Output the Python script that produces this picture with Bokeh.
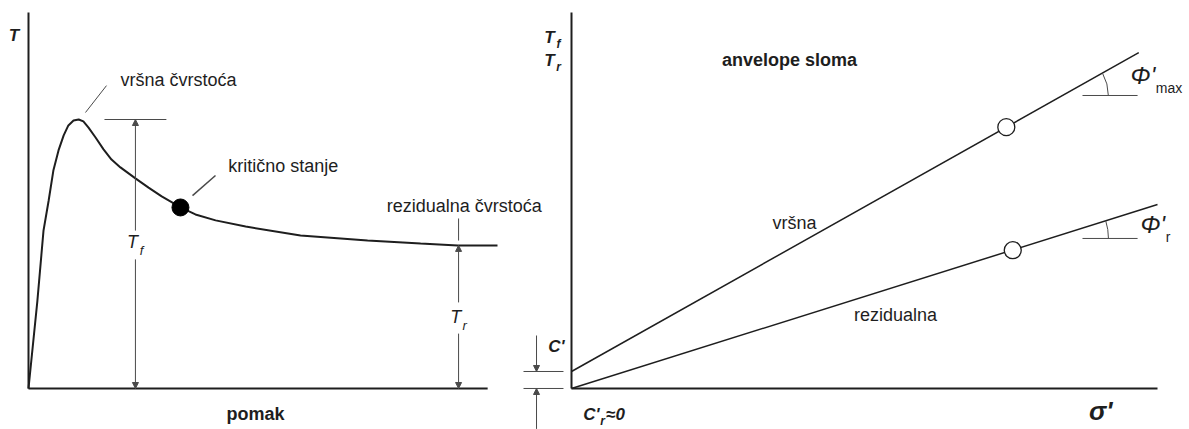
import numpy as np
from bokeh.plotting import figure
from bokeh.models import Range1d, Arrow, NormalHead
from bokeh.core.properties import value
from bokeh.embed import file_html
from bokeh.resources import INLINE

# ---------------- data ----------------
# Left panel: shear stress T (peak = 100) vs displacement "pomak"
displacement = [0, 1.9, 3.2, 4.3, 5.3, 6.4, 7.5, 8.5, 9.6, 10.7, 11.7, 12.8, 14.3,
                16.0, 17.7, 19.6, 22.8, 25.6, 28.4, 30.7, 32.4, 35.6, 39.9, 46.3,
                58.0, 72.3, 83.6, 91.5, 100.0]
shear_stress = [0, 32.7, 58.7, 69.9, 81.0, 88.5, 94.1, 97.8, 99.6, 100.0, 99.3, 97.0,
                93.3, 88.9, 85.1, 82.2, 78.1, 74.7, 71.4, 69.1, 67.3, 64.7, 62.5, 60.2,
                56.9, 55.0, 53.9, 53.2, 53.2]
critical_disp = [32.4]
critical_stress = [67.3]
tf_disp = 22.8      # where T_f is dimensioned
tr_disp = 91.7      # where T_r is dimensioned
axis_end_disp = 97.9

# Right panel: failure envelopes tau vs sigma'
sigma_peak = [0, 96.8]
tau_peak = [2.9, 57.3]
sigma_res = [0, 100.0]
tau_res = [0, 31.4]
test_sigma_peak = [74.2]
test_tau_peak = [44.6]
test_sigma_res = [75.3]
test_tau_res = [23.6]

peak = max(shear_stress)
residual = shear_stress[-1]
c_peak = tau_peak[0]

FONT = value("Liberation Sans")
INK = "#1e1e1e"
GRAY = "#4a4a4a"

p = figure(width=1189, height=429, output_backend="svg", toolbar_location=None,
           x_axis_type=None, y_axis_type=None, min_border=0,
           x_range=Range1d(-5.970, 247.55), y_range=Range1d(-15.242, 144.24))
p.extra_x_ranges = {"s": Range1d(-97.44, 105.46)}
p.extra_y_ranges = {"t": Range1d(-7.0, 66.21)}
p.outline_line_color = None
p.background_fill_color = "white"
p.border_fill_color = "white"
R = dict(x_range_name="s", y_range_name="t")


def txt(x, y, s, size, style="normal", align="center", right=False, color=INK):
    kw = R if right else {}
    p.text(x=[x], y=[y], text=[s], text_font=FONT, text_font_size=size,
           text_font_style=style, text_align=align, text_baseline="middle",
           text_color=color, **kw)


def arrow(x0, y0, x1, y1, right=False, color=GRAY):
    kw = R if right else {}
    p.add_layout(Arrow(end=NormalHead(size=6, fill_color=color, line_color=color),
                       x_start=x0, y_start=y0, x_end=x1, y_end=y1,
                       line_color=color, line_width=1, **kw))


# ---------------- left panel ----------------
p.line([0, 0], [0, 139.8], line_color=INK, line_width=2)
p.line([0, axis_end_disp], [0, 0], line_color=INK, line_width=2)
p.line(displacement, shear_stress, line_color=INK, line_width=2)
p.scatter(critical_disp, critical_stress, size=17, fill_color="black", line_color="black")

# T_f dimension
p.line([tf_disp - 6.6, tf_disp + 6.6], [peak, peak], line_color=GRAY, line_width=1)
arrow(tf_disp, 58.7, tf_disp, peak)
arrow(tf_disp, 48.0, tf_disp, 0)
txt(tf_disp - 0.6, 54.3, "T", "18px", "italic")
txt(tf_disp + 1.3, 51.3, "f", "13px", "italic")

# T_r dimension
p.line([tr_disp, tr_disp], [residual + 1.8, residual + 10], line_color=GRAY, line_width=1)
arrow(tr_disp, 32.0, tr_disp, residual)
arrow(tr_disp, 20.4, tr_disp, 0)
txt(tr_disp - 0.6, 26.4, "T", "18px", "italic")
txt(tr_disp + 1.3, 23.4, "r", "13px", "italic")

# leaders and labels
p.line([12.15, 16.63], [102.6, 112.6], line_color=GRAY, line_width=1)
p.line([34.97, 39.87], [71.7, 79.2], line_color=GRAY, line_width=1.5)
txt(19.6, 114.5, "vršna čvrstoća", "18px", align="left")
txt(42.6, 82.9, "kritično stanje", "18px", align="left")
txt(92.9, 68.0, "rezidualna čvrstoća", "18px")
txt(-3.1, 131.2, "T", "17px", "bold italic")
txt(48.4, -9.3, "pomak", "18px", "bold")

# ---------------- right panel ----------------
p.line([0, 0], [0, 64.16], line_color=INK, line_width=2, **R)
p.line([0, 100], [0, 0], line_color=INK, line_width=2, **R)
p.line(sigma_peak, tau_peak, line_color=INK, line_width=1.5, **R)
p.line(sigma_res, tau_res, line_color=INK, line_width=1.5, **R)
p.scatter(test_sigma_peak, test_tau_peak, size=17, fill_color="white", line_color=INK,
          line_width=1.3, **R)
p.scatter(test_sigma_res, test_tau_res, size=17, fill_color="white", line_color=INK,
          line_width=1.3, **R)

slope_peak = (tau_peak[1] - tau_peak[0]) / (sigma_peak[1] - sigma_peak[0])
slope_res = (tau_res[1] - tau_res[0]) / (sigma_res[1] - sigma_res[0])

# angle markers
h1 = 50.0
v1 = (h1 - c_peak) / slope_peak
p.line([87.2, 96.6], [h1, h1], line_color=GRAY, line_width=1, **R)
p.arc(x=[v1], y=[h1], radius=7.8, start_angle=0, end_angle=np.arctan(slope_peak),
      line_color=GRAY, line_width=1, **R)
h2 = 25.6
v2 = h2 / slope_res
p.line([87.2, 96.6], [h2, h2], line_color=GRAY, line_width=1, **R)
p.arc(x=[v2], y=[h2], radius=10.1, start_angle=0, end_angle=np.arctan(slope_res),
      line_color=GRAY, line_width=1, **R)

txt(95.4, 53.4, "Φ'", "24px", "italic", align="left", right=True)
txt(99.7, 51.2, "max", "14px", align="left", right=True)
txt(97.1, 28.0, "Φ'", "24px", "italic", align="left", right=True)
txt(101.4, 25.9, "r", "14px", align="left", right=True)

# c' dimension
p.line([-8.19, -1.37], [c_peak, c_peak], line_color=GRAY, line_width=1, **R)
p.line([-8.19, -1.37], [0, 0], line_color=GRAY, line_width=1, **R)
arrow(-5.97, 9.04, -5.97, c_peak, right=True)
arrow(-5.97, -6.9, -5.97, 0, right=True)
txt(-2.56, 7.17, "C'", "17px", "bold italic", right=True)

# labels
txt(-3.75, 59.9, "T", "17px", "bold italic", right=True)
txt(-2.2, 58.8, "f", "12px", "bold italic", right=True)
txt(-3.75, 56.0, "T", "17px", "bold italic", right=True)
txt(-2.2, 54.8, "r", "12px", "bold italic", right=True)
txt(37.2, 56.0, "anvelope sloma", "18px", "bold", right=True)
txt(38.05, 28.3, "vršna", "18px", right=True)
txt(55.3, 12.5, "rezidualna", "18px", right=True)
txt(2.0, -4.5, "C'", "17px", "bold italic", align="left", right=True)
txt(4.9, -5.5, "r", "12px", "bold italic", align="left", right=True)
txt(5.9, -4.5, "≈0", "17px", "bold italic", align="left", right=True)
txt(90.3, -3.9, "σ'", "26px", "bold italic", right=True)

open("out.html", "w").write(file_html(p, INLINE))
